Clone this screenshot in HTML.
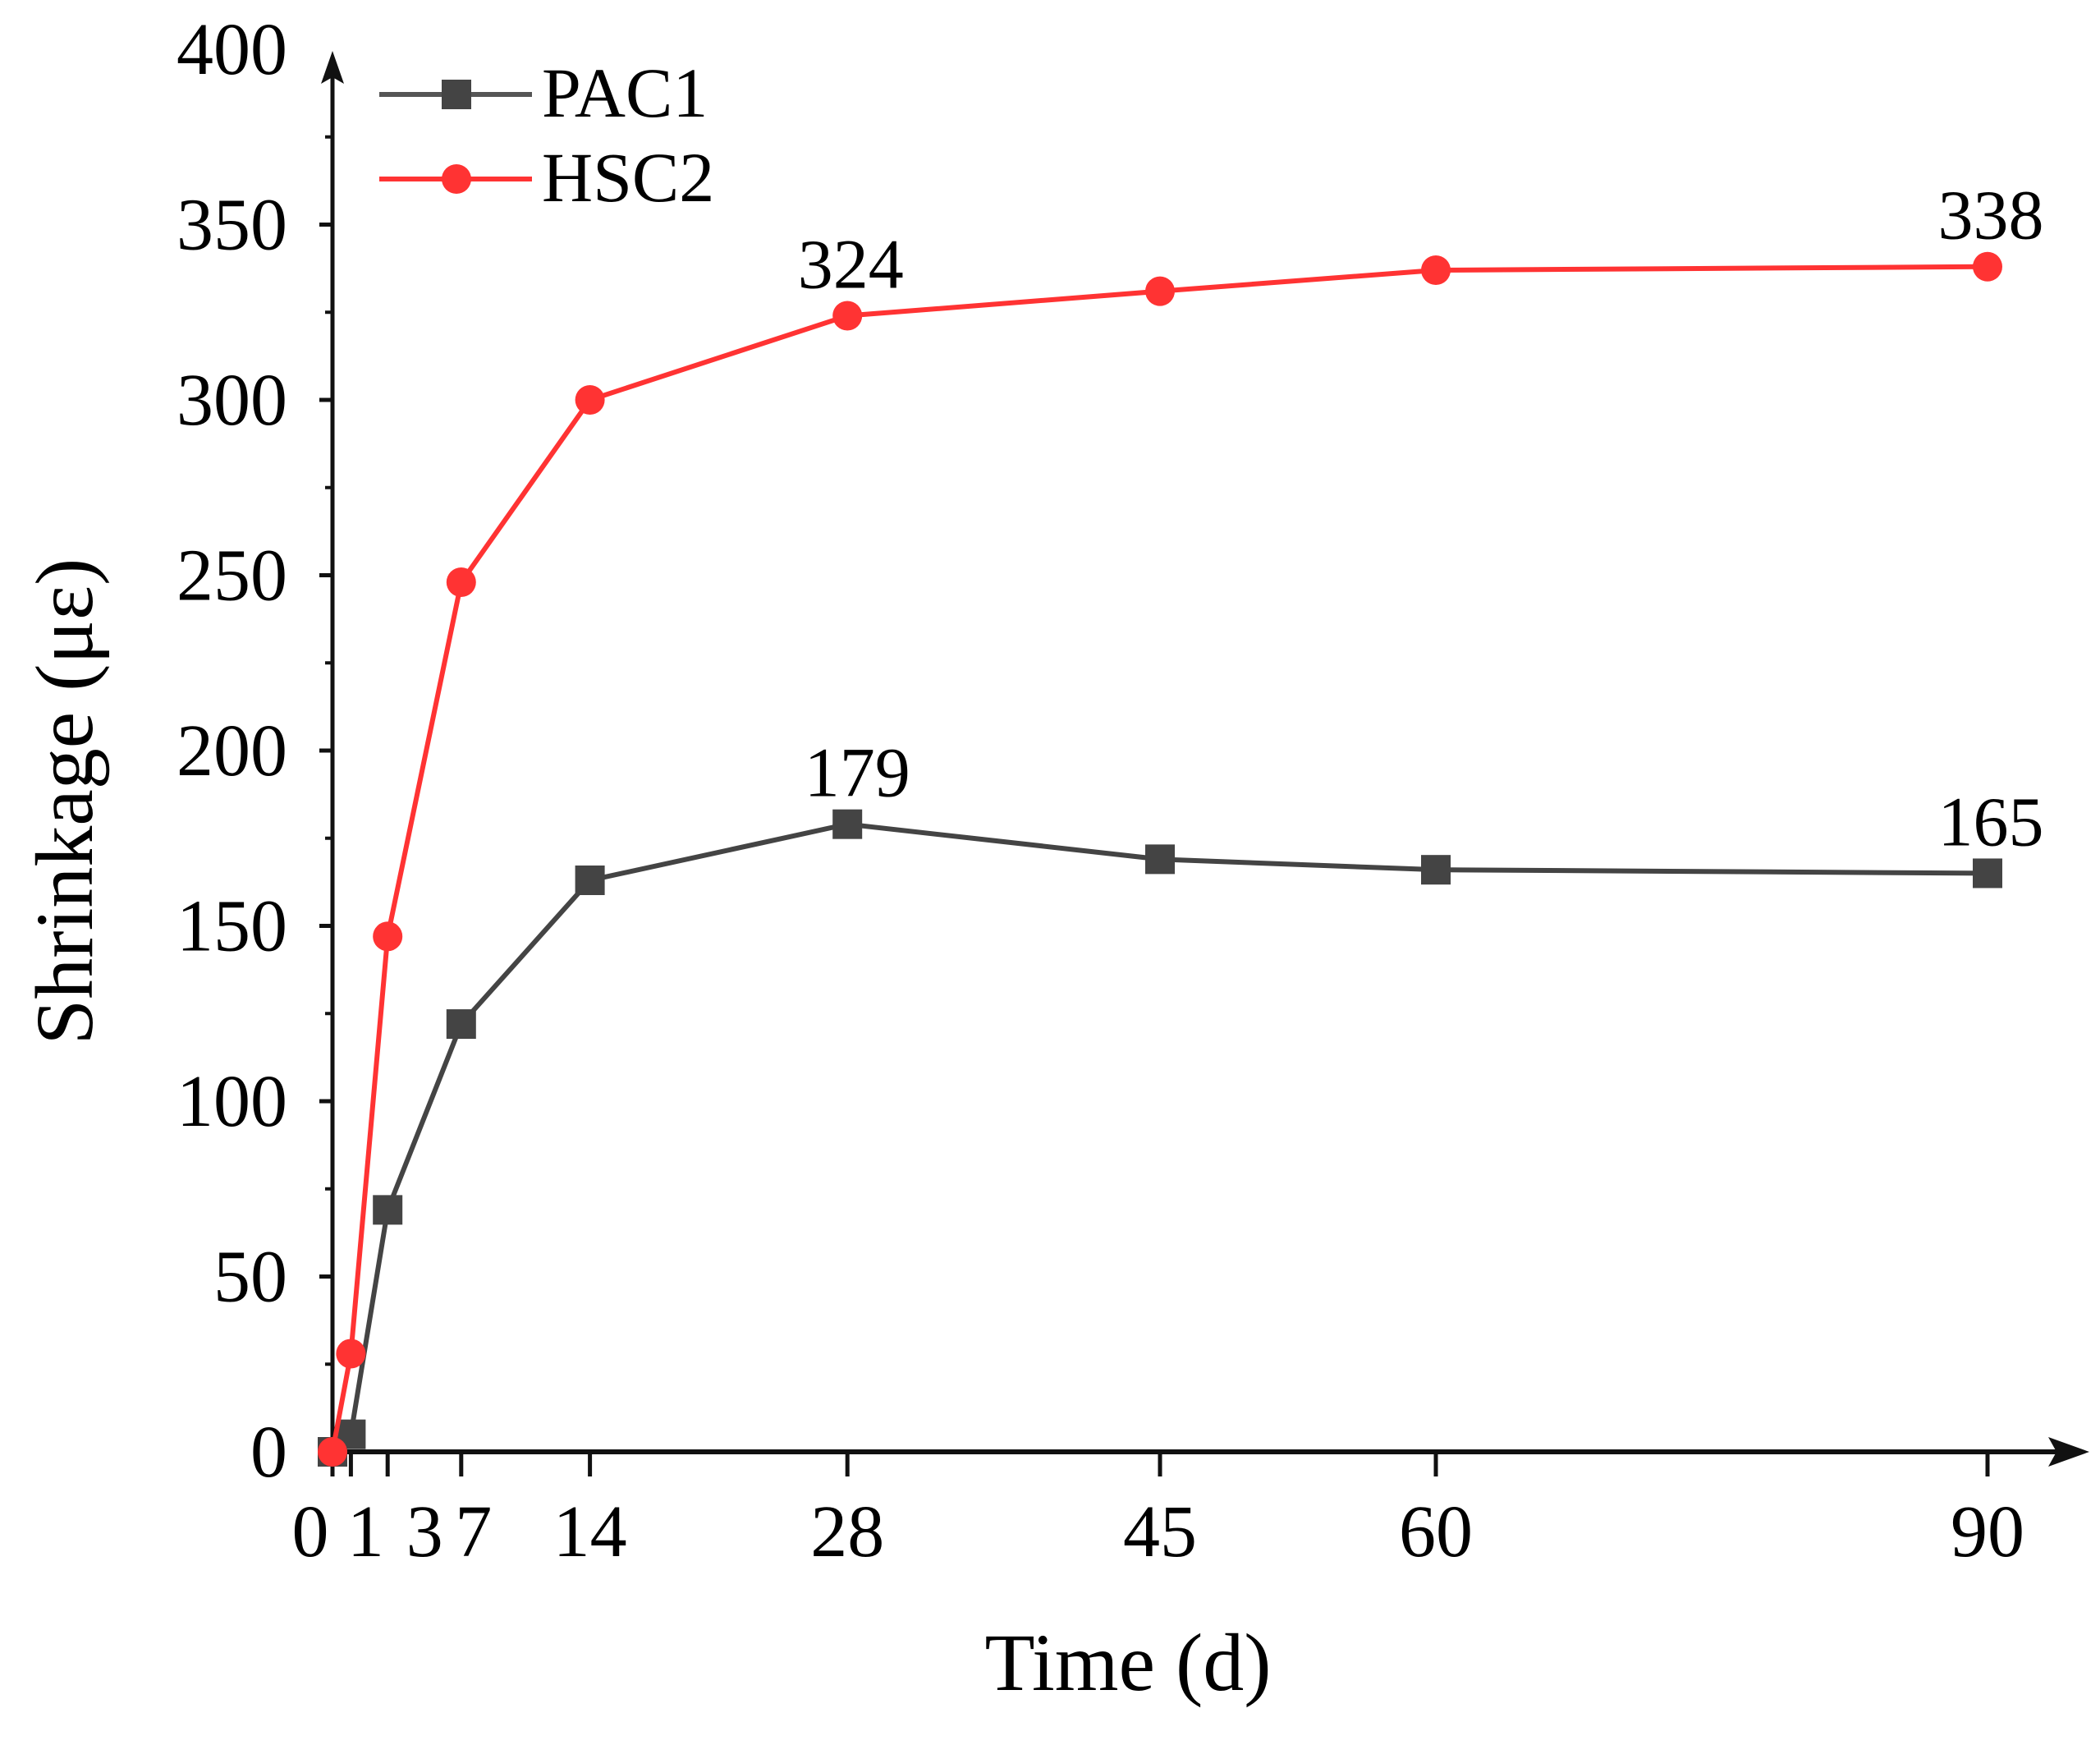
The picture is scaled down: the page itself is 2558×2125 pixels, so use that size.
<!DOCTYPE html>
<html><head><meta charset="utf-8"><style>
html,body{margin:0;padding:0;background:#fff;}
svg text{font-family:"Liberation Serif",serif;}
</style></head><body>
<svg width="2558" height="2120" viewBox="0 0 2558 2120" xmlns="http://www.w3.org/2000/svg">
<g id="axes"></g>
<g id="series"></g>
<text x="1374" y="2058" font-size="100" text-anchor="middle">Time (d)</text>
<text transform="translate(112,976) rotate(-90)" font-size="100" text-anchor="middle">Shrinkage (με)</text>
<g>
 <g>
  <line x1="462" y1="115" x2="648" y2="115" stroke="#555" stroke-width="6"/>
  <rect x="538" y="97" width="36" height="36" fill="#444"/>
  <text x="660" y="142" font-size="86">PAC1</text>
 </g>
 <g>
  <line x1="462" y1="218" x2="648" y2="218" stroke="#ff3333" stroke-width="6"/>
  <circle cx="556" cy="218" r="18" fill="#ff3333"/>
  <text x="660" y="245" font-size="86">HSC2</text>
 </g>
</g>
</svg>
<script>
const days = [0, 1, 3, 7, 14, 28, 45, 60, 90];
const pac1 = [0, 5, 69, 122, 163, 179, 169, 166, 165];
const hsc2 = [0, 28, 147, 248, 300, 324, 331, 337, 338];
const xTickVals = [0, 1, 3, 7, 14, 28, 45, 60, 90];
const xTickLabels = ["0", "1", "3", "7", "14", "28", "45", "60", "90"];
const yTickVals = [0, 50, 100, 150, 200, 250, 300, 350, 400];
const annotations = [
  {series: "hsc2", day: 28, text: "324"},
  {series: "hsc2", day: 90, text: "338"},
  {series: "pac1", day: 28, text: "179"},
  {series: "pac1", day: 90, text: "165"}
];
const NS = "http://www.w3.org/2000/svg";
const X0 = 405, XPD = 22.4, Y0 = 1768, YPU = 4.27;
function xs(d){ return X0 + d * XPD; }
function ys(v){ return Y0 - v * YPU; }
function mk(tag, attrs, parent){ const e = document.createElementNS(NS, tag); for (const k in attrs) e.setAttribute(k, attrs[k]); parent.appendChild(e); return e; }
const axes = document.getElementById('axes');
const ser = document.getElementById('series');
let yl = mk('line', {x1: X0, y1: Y0 + 8, x2: X0, y2: 80, stroke: '#111', 'stroke-width': 5}, axes);


let ya = mk('polygon', {points: `${X0-14},102 ${X0},62 ${X0+14},102 ${X0},94`, fill: '#111'}, axes);


let xl = mk('line', {x1: X0 - 8, y1: Y0, x2: 2520, y2: Y0, stroke: '#111', 'stroke-width': 6}, axes);


let xa = mk('polygon', {points: `2495,${Y0-18} 2545,${Y0} 2495,${Y0+18} 2505,${Y0}`, fill: '#111'}, axes);


const yLabelX = 350;
yTickVals.forEach((v, i) => {
  if (v !== 400) {
    let t = mk('line', {x1: X0 - 16, y1: ys(v), x2: X0, y2: ys(v), stroke: '#111', 'stroke-width': 5}, axes);
    
    
  }
  if (i < yTickVals.length - 1) {
    let m = mk('line', {x1: X0 - 9, y1: ys(v + 25), x2: X0, y2: ys(v + 25), stroke: '#111', 'stroke-width': 4}, axes);
    
    
  }
  let lb = mk('text', {x: yLabelX, y: ys(v) + 30, 'font-size': 90, 'text-anchor': 'end'}, axes);
  lb.textContent = String(v);
  
  
});
const crowdShift = {"0": -27, "1": 18, "3": 45, "7": 15};
xTickVals.forEach((d, i) => {
  let t = mk('line', {x1: xs(d), y1: Y0, x2: xs(d), y2: Y0 + 30, stroke: '#111', 'stroke-width': 5}, axes);
  
  
  const lab = xTickLabels[i];
  let lb = mk('text', {x: xs(d) + (crowdShift[lab] || 0), y: 1895, 'font-size': 90, 'text-anchor': 'middle'}, axes);
  lb.textContent = lab;
  
  
});
function drawSeries(vals, color, name, marker){
  const pts = days.map((d, i) => xs(d) + ',' + ys(vals[i])).join(' ');
  let pl = mk('polyline', {points: pts, fill: 'none', stroke: color, 'stroke-width': 6}, ser);
  
  
  days.forEach((d, i) => {
    let m;
    if (marker === 'square') m = mk('rect', {x: xs(d) - 18, y: ys(vals[i]) - 18, width: 36, height: 36, fill: color}, ser);
    else m = mk('circle', {cx: xs(d), cy: ys(vals[i]), r: 18, fill: color}, ser);
    
    
  });
}
drawSeries(pac1, '#444', 'pac1', 'square');
drawSeries(hsc2, '#ff3333', 'hsc2', 'circle');
annotations.forEach(a => {
  const arr = a.series === 'pac1' ? pac1 : hsc2;
  const v = arr[days.indexOf(a.day)];
  let t = mk('text', {x: xs(a.day) + (a.day === 28 && a.series === 'pac1' ? 12 : 4), y: ys(v) - 34, 'font-size': 86, 'text-anchor': 'middle'}, ser);
  t.textContent = a.text;
  
  
});
</script>
</body></html>
